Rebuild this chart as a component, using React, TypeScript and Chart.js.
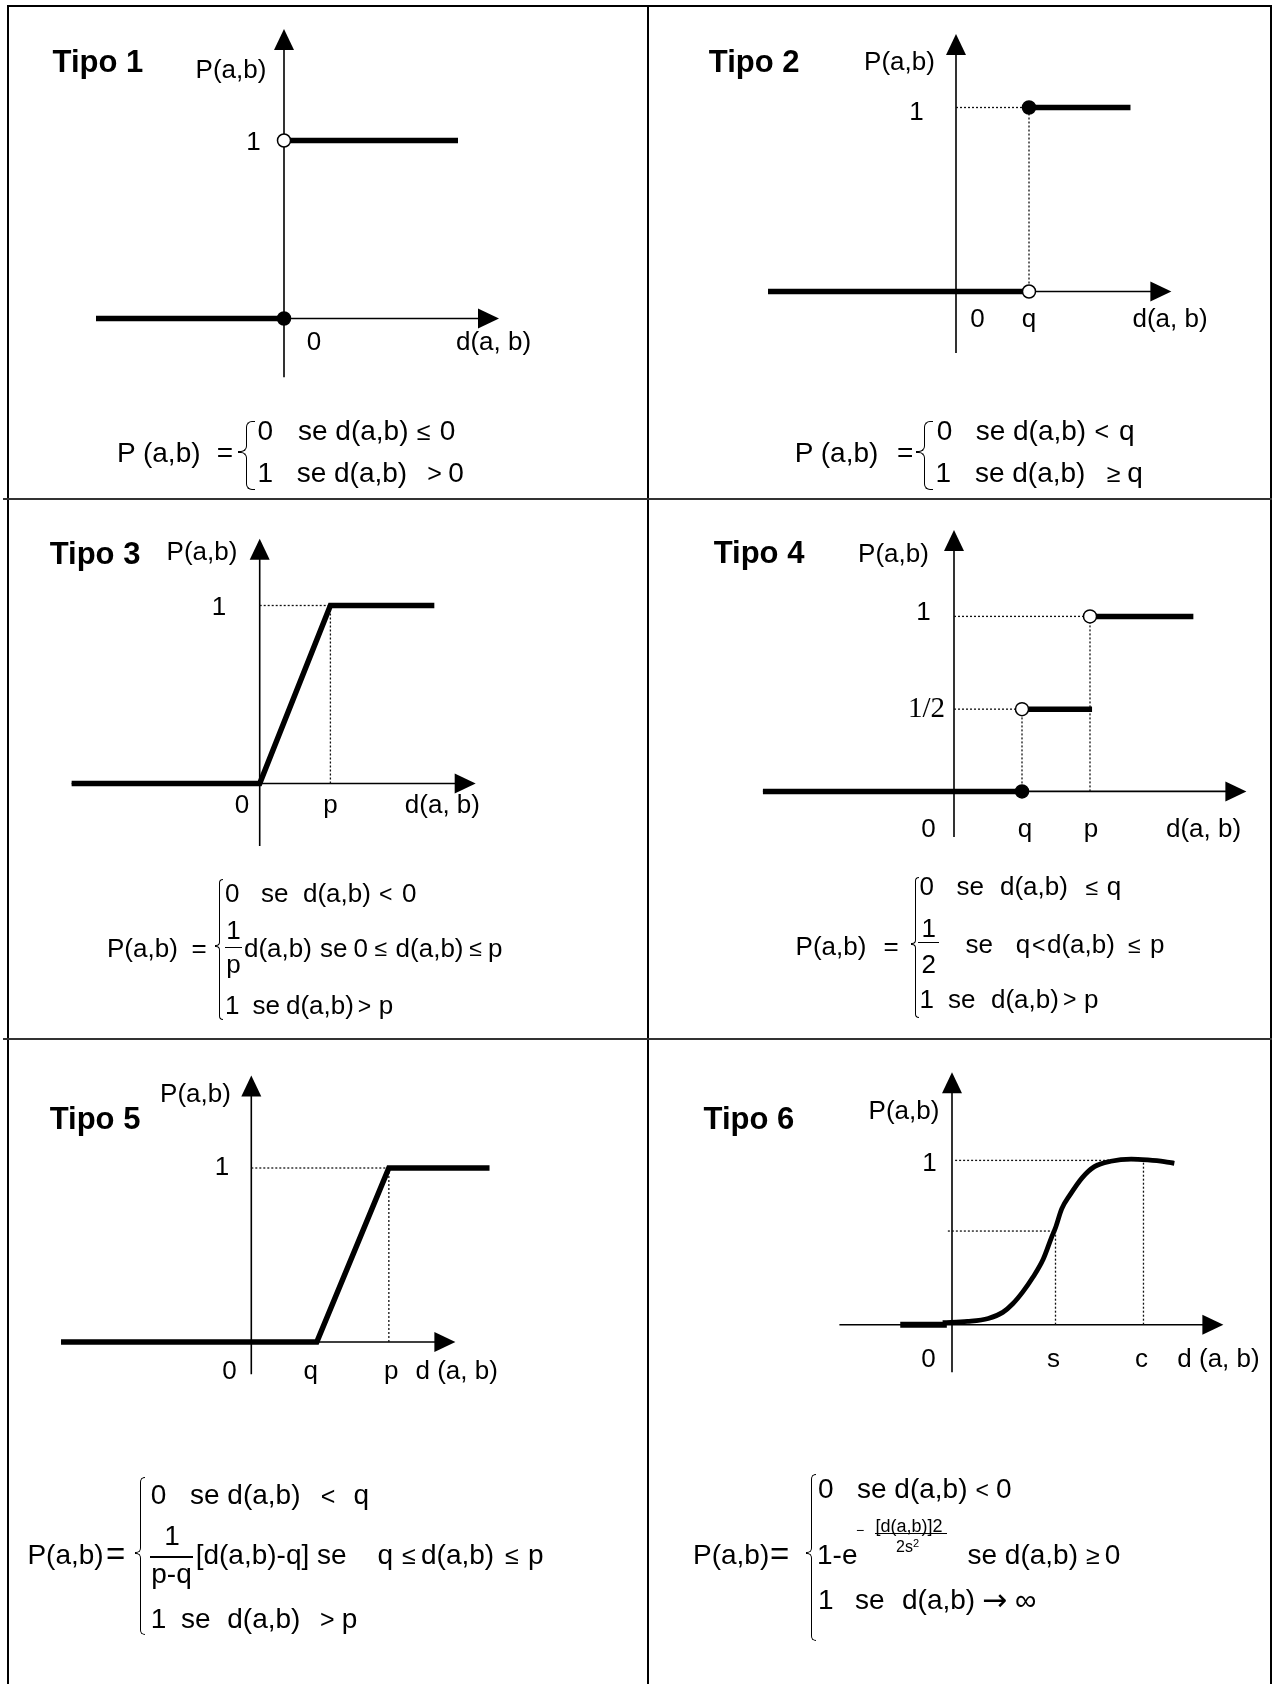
import React, { useEffect, useRef } from "react";
import { Chart, registerables } from "chart.js";
Chart.register(...registerables);

type Pt = { x: number; y: number };

// ================= DATA =================
const axisYTitle = "P(a,b)";
const axisXTitle = "d(a, b)";
const axisXTitleSpaced = "d (a, b)";
const titles = ["Tipo 1", "Tipo 2", "Tipo 3", "Tipo 4", "Tipo 5", "Tipo 6"];

// Tipo 1 – critério usual
const t1Negative: Pt[] = [{ x: -1.88, y: 0 }, { x: 0, y: 0 }];
const t1Positive: Pt[] = [{ x: 0.06, y: 1 }, { x: 1.74, y: 1 }];
const t1Closed: Pt[] = [{ x: 0, y: 0 }];
const t1Open: Pt[] = [{ x: 0, y: 1 }];
const t1TickLabels = ["0", "1"];

// Tipo 2 – quase-critério (limiar q)
const q2 = 1;
const t2Low: Pt[] = [{ x: -2.575, y: 0 }, { x: q2, y: 0 }];
const t2High: Pt[] = [{ x: q2, y: 1 }, { x: 2.39, y: 1 }];
const t2Closed: Pt[] = [{ x: q2, y: 1 }];
const t2Open: Pt[] = [{ x: q2, y: 0 }];
const t2TickLabels = ["0", "q", "1"];

// Tipo 3 – preferência linear (limiar p)
const p3 = 1;
const t3Line: Pt[] = [{ x: -2.66, y: 0 }, { x: 0, y: 0 }, { x: p3, y: 1 }, { x: 2.47, y: 1 }];
const t3TickLabels = ["0", "p", "1"];

// Tipo 4 – pseudo-critério em níveis (q, p)
const q4 = 1;
const p4 = 2;
const half4 = 0.47;
const t4Low: Pt[] = [{ x: -2.81, y: 0 }, { x: q4, y: 0 }];
const t4Mid: Pt[] = [{ x: q4, y: half4 }, { x: 2.03, y: half4 }];
const t4High: Pt[] = [{ x: p4, y: 1 }, { x: 3.52, y: 1 }];
const t4Closed: Pt[] = [{ x: q4, y: 0 }];
const t4Open: Pt[] = [{ x: q4, y: half4 }, { x: p4, y: 1 }];
const t4TickLabels = ["0", "q", "p", "1", "1/2"];

// Tipo 5 – preferência linear com indiferença (q, p)
const q5 = 1;
const p5 = 2.1;
const t5Line: Pt[] = [{ x: -2.905, y: 0 }, { x: q5, y: 0 }, { x: p5, y: 1 }, { x: 3.637, y: 1 }];
const t5TickLabels = ["0", "q", "p", "1"];

// Tipo 6 – critério gaussiano (s, c)
const s6 = 1;
const c6 = 1.85;
const mid6 = 0.57;
const t6Flat: Pt[] = [{ x: -0.5, y: 0 }, { x: -0.05, y: 0 }];
const t6Curve: Pt[] = [
  { x: -0.09, y: 0.012 }, { x: 0.15, y: 0.02 }, { x: 0.35, y: 0.038 }, { x: 0.49, y: 0.075 },
  { x: 0.585, y: 0.126 }, { x: 0.684, y: 0.2 }, { x: 0.783, y: 0.29 }, { x: 0.882, y: 0.4 },
  { x: 0.961, y: 0.53 }, { x: 1.0, y: 0.59 }, { x: 1.06, y: 0.705 }, { x: 1.14, y: 0.79 },
  { x: 1.257, y: 0.894 }, { x: 1.376, y: 0.962 }, { x: 1.534, y: 0.995 }, { x: 1.732, y: 1.008 },
  { x: 1.89, y: 1.003 }, { x: 2.05, y: 0.993 }, { x: 2.148, y: 0.982 },
];
const t6TickLabels = ["0", "s", "c", "1"];

// ================= STYLE HELPERS =================
const FS = '"Liberation Sans", Arial, Helvetica, sans-serif';
const SERIF = '"Liberation Serif", "Times New Roman", serif';
const DJ = '"DejaVu Sans", "Liberation Sans", sans-serif';
const PAGE_W = 1282;
const PAGE_H = 1684;

const bold = (data: Pt[], w = 5.5, extra: any = {}) => ({
  data, showLine: true, borderColor: "#000", backgroundColor: "#000", borderWidth: w,
  pointRadius: 0, pointHoverRadius: 0, borderJoinStyle: "miter", fill: false, order: 1, ...extra,
});
const guide = (data: Pt[]) => ({
  data, showLine: true, borderColor: "#111", borderWidth: 1.3, borderDash: [2, 2],
  pointRadius: 0, pointHoverRadius: 0, fill: false, order: 2,
});
const marks = (data: Pt[], filled: boolean) => ({
  data, showLine: false, pointRadius: 6.5, pointHoverRadius: 6.5,
  pointBackgroundColor: filled ? "#000" : "#fff", pointBorderColor: "#000", pointBorderWidth: 1.5, order: 0,
});

type Label = { t: string; vx: number; vy: number; dx: number; dy: number; font?: string };
type Layout = { ox: number; oy: number; ux: number; uy: number; xAxis: number[]; yAxis: number[] };
type Panel = { id: string; layout: Layout; datasets: any[]; labels: Label[] };

const LF = `26px ${FS}`;

const panels: Panel[] = [
  {
    id: "t1",
    layout: { ox: 284, oy: 318.5, ux: 100, uy: 178, xAxis: [-1.88, 2.15], yAxis: [-0.33, 1.626] },
    datasets: [marks(t1Closed, true), marks(t1Open, false), bold(t1Negative), bold(t1Positive)],
    labels: [
      { t: axisYTitle, vx: 0, vy: 0, dx: -53, dy: -247.5 },
      { t: t1TickLabels[1], vx: 0, vy: 1, dx: -30.5, dy: 2.5 },
      { t: t1TickLabels[0], vx: 0, vy: 0, dx: 30, dy: 24.5 },
      { t: axisXTitle, vx: 0, vy: 0, dx: 209.5, dy: 24.5 },
    ],
  },
  {
    id: "t2",
    layout: { ox: 956, oy: 291.5, ux: 73, uy: 184, xAxis: [-2.575, 2.95], yAxis: [-0.334, 1.4] },
    datasets: [
      marks(t2Closed, true), marks(t2Open, false), bold(t2Low), bold(t2High),
      guide([{ x: 0, y: 1 }, { x: q2, y: 1 }]), guide([{ x: q2, y: 0 }, { x: q2, y: 1 }]),
    ],
    labels: [
      { t: axisYTitle, vx: 0, vy: 0, dx: -56.5, dy: -229 },
      { t: t2TickLabels[2], vx: 0, vy: 1, dx: -39.5, dy: 5 },
      { t: t2TickLabels[0], vx: 0, vy: 0, dx: 21.5, dy: 28.5 },
      { t: t2TickLabels[1], vx: q2, vy: 0, dx: 0, dy: 28.5 },
      { t: axisXTitle, vx: 0, vy: 0, dx: 214, dy: 28.5 },
    ],
  },
  {
    id: "t3",
    layout: { ox: 259.7, oy: 783.5, ux: 70.7, uy: 178, xAxis: [-2.66, 3.055], yAxis: [-0.351, 1.375] },
    datasets: [
      bold(t3Line),
      guide([{ x: 0, y: 1 }, { x: p3, y: 1 }]), guide([{ x: p3, y: 0 }, { x: p3, y: 1 }]),
    ],
    labels: [
      { t: axisYTitle, vx: 0, vy: 0, dx: -57.7, dy: -230.5 },
      { t: t3TickLabels[2], vx: 0, vy: 1, dx: -40.7, dy: 2.5 },
      { t: t3TickLabels[0], vx: 0, vy: 0, dx: -17.7, dy: 22 },
      { t: t3TickLabels[1], vx: p3, vy: 0, dx: 0, dy: 22 },
      { t: axisXTitle, vx: 0, vy: 0, dx: 182.7, dy: 22 },
    ],
  },
  {
    id: "t4",
    layout: { ox: 954, oy: 791.4, ux: 68, uy: 175, xAxis: [-2.81, 4.3], yAxis: [-0.26, 1.494] },
    datasets: [
      marks(t4Closed, true), marks(t4Open, false), bold(t4Low), bold(t4Mid), bold(t4High),
      guide([{ x: 0, y: 1 }, { x: p4, y: 1 }]), guide([{ x: 0, y: half4 }, { x: q4, y: half4 }]),
      guide([{ x: q4, y: 0 }, { x: q4, y: half4 }]), guide([{ x: p4, y: 0 }, { x: p4, y: 1 }]),
    ],
    labels: [
      { t: axisYTitle, vx: 0, vy: 0, dx: -60.5, dy: -236.4 },
      { t: t4TickLabels[3], vx: 0, vy: 1, dx: -30.5, dy: -4 },
      { t: t4TickLabels[4], vx: 0, vy: half4, dx: -27.5, dy: 0.5, font: `29px ${SERIF}` },
      { t: t4TickLabels[0], vx: 0, vy: 0, dx: -25.4, dy: 38.6 },
      { t: t4TickLabels[1], vx: q4, vy: 0, dx: 3, dy: 38.6 },
      { t: t4TickLabels[2], vx: p4, vy: 0, dx: 1, dy: 38.6 },
      { t: axisXTitle, vx: 0, vy: 0, dx: 249.5, dy: 38.6 },
    ],
  },
  {
    id: "t5",
    layout: { ox: 251.3, oy: 1342, ux: 65.5, uy: 174, xAxis: [-2.905, 3.116], yAxis: [-0.186, 1.531] },
    datasets: [
      bold(t5Line),
      guide([{ x: 0, y: 1 }, { x: p5, y: 1 }]), guide([{ x: p5, y: 0 }, { x: p5, y: 1 }]),
    ],
    labels: [
      { t: axisYTitle, vx: 0, vy: 0, dx: -55.8, dy: -247 },
      { t: t5TickLabels[3], vx: 0, vy: 1, dx: -29.3, dy: -0.5 },
      { t: t5TickLabels[0], vx: 0, vy: 0, dx: -21.9, dy: 30.3 },
      { t: t5TickLabels[1], vx: q5, vy: 0, dx: -6, dy: 30.3 },
      { t: t5TickLabels[2], vx: p5, vy: 0, dx: 2.5, dy: 30.3 },
      { t: axisXTitleSpaced, vx: 0, vy: 0, dx: 205.4, dy: 30.3 },
    ],
  },
  {
    id: "t6",
    layout: { ox: 952, oy: 1324.7, ux: 103.5, uy: 164.3, xAxis: [-1.088, 2.622], yAxis: [-0.29, 1.536] },
    datasets: [
      bold(t6Flat, 6), bold(t6Curve, 4.8, { cubicInterpolationMode: "monotone", borderJoinStyle: "round" }),
      guide([{ x: 0.03, y: 1 }, { x: c6, y: 1 }]), guide([{ x: c6, y: 0 }, { x: c6, y: 1.02 }]),
      guide([{ x: -0.04, y: mid6 }, { x: s6, y: mid6 }]), guide([{ x: s6, y: 0 }, { x: s6, y: mid6 }]),
    ],
    labels: [
      { t: axisYTitle, vx: 0, vy: 0, dx: -48, dy: -213 },
      { t: t6TickLabels[3], vx: 0, vy: 1, dx: -22.4, dy: 3.6 },
      { t: t6TickLabels[0], vx: 0, vy: 0, dx: -23.4, dy: 35.3 },
      { t: t6TickLabels[1], vx: s6, vy: 0, dx: -2, dy: 35.3 },
      { t: t6TickLabels[2], vx: c6, vy: 0, dx: -2, dy: 35.3 },
      { t: axisXTitleSpaced, vx: 0, vy: 0, dx: 266.5, dy: 35.3 },
    ],
  },
];

// ================= CHART =================
function PanelChart({ panel }: { panel: Panel }) {
  const ref = useRef<HTMLCanvasElement>(null);
  useEffect(() => {
    if (!ref.current) return;
    const L = panel.layout;
    const xmin = -L.ox / L.ux;
    const xmax = (PAGE_W - L.ox) / L.ux;
    const ymax = L.oy / L.uy;
    const ymin = -(PAGE_H - L.oy) / L.uy;
    const axesPlugin = {
      id: "axes_" + panel.id,
      beforeDatasetsDraw(chart: any) {
        const { ctx, scales } = chart;
        const sx = scales.x, sy = scales.y;
        const x0 = sx.getPixelForValue(0), y0 = sy.getPixelForValue(0);
        const xa = sx.getPixelForValue(L.xAxis[0]), xb = sx.getPixelForValue(L.xAxis[1]);
        const ya = sy.getPixelForValue(L.yAxis[0]), yb = sy.getPixelForValue(L.yAxis[1]);
        ctx.save();
        ctx.strokeStyle = "#000";
        ctx.fillStyle = "#000";
        ctx.lineWidth = 1.6;
        ctx.beginPath();
        ctx.moveTo(xa, y0);
        ctx.lineTo(xb - 10, y0);
        ctx.moveTo(x0, ya);
        ctx.lineTo(x0, yb + 10);
        ctx.stroke();
        ctx.beginPath();
        ctx.moveTo(xb, y0);
        ctx.lineTo(xb - 21, y0 - 10);
        ctx.lineTo(xb - 21, y0 + 10);
        ctx.closePath();
        ctx.fill();
        ctx.beginPath();
        ctx.moveTo(x0, yb);
        ctx.lineTo(x0 - 10, yb + 21);
        ctx.lineTo(x0 + 10, yb + 21);
        ctx.closePath();
        ctx.fill();
        ctx.restore();
      },
      afterDatasetsDraw(chart: any) {
        const { ctx, scales } = chart;
        ctx.save();
        ctx.fillStyle = "#000";
        ctx.textAlign = "center";
        ctx.textBaseline = "middle";
        for (const lb of panel.labels) {
          ctx.font = lb.font || LF;
          ctx.fillText(lb.t, scales.x.getPixelForValue(lb.vx) + lb.dx, scales.y.getPixelForValue(lb.vy) + lb.dy);
        }
        ctx.restore();
      },
    };
    const chart = new Chart(ref.current, {
      type: "scatter",
      data: { datasets: panel.datasets as any },
      options: {
        animation: false,
        responsive: false,
        maintainAspectRatio: false,
        devicePixelRatio: 1,
        events: [],
        layout: { padding: 0, autoPadding: false },
        plugins: { legend: { display: false }, tooltip: { enabled: false }, title: { display: false } },
        scales: {
          x: { type: "linear", display: false, min: xmin, max: xmax },
          y: { type: "linear", display: false, min: ymin, max: ymax },
        },
      } as any,
      plugins: [axesPlugin],
    });
    return () => chart.destroy();
  }, [panel]);
  return (
    <canvas
      ref={ref}
      width={PAGE_W}
      height={PAGE_H}
      style={{ position: "absolute", left: 0, top: 0, width: PAGE_W, height: PAGE_H }}
    />
  );
}

// ================= TEXT HELPERS =================
function Txt({ x, cy, size = 28, refSize, children, center = false, family = FS }: any) {
  const base = cy + 0.358 * (refSize || size);
  return (
    <div
      style={{
        position: "absolute", left: x, top: base - 0.8465 * size, fontSize: size, lineHeight: `${size}px`,
        whiteSpace: "pre", fontFamily: family, color: "#000",
        transform: center ? "translateX(-50%)" : undefined,
      }}
    >
      {children}
    </div>
  );
}
const Rel = (p: any) => <Txt {...p} size={p.size || 25} refSize={p.refSize || 28} />;

function Title({ x, base, children }: any) {
  const size = 31;
  return (
    <div style={{ position: "absolute", left: x, top: base - 0.8465 * size, fontSize: size, lineHeight: `${size}px`, fontWeight: "bold", fontFamily: FS, whiteSpace: "pre" }}>
      {children}
    </div>
  );
}

// curly brace drawn with thin bordered boxes: x = middle cusp, xs = stem, xr = hook ends
function Brace({ x, xs, xr, y0, ym, y1, r = 5, b = 1.3 }: any) {
  const base: any = { position: "absolute", boxSizing: "border-box", borderColor: "#000", borderStyle: "solid", borderWidth: 0 };
  return (
    <>
      <div style={{ ...base, left: xs, top: y0, width: xr - xs, height: ym - y0 - r, borderLeftWidth: b, borderTopWidth: b, borderTopLeftRadius: r }} />
      <div style={{ ...base, left: x, top: ym - r, width: xs - x + b, height: r, borderRightWidth: b, borderBottomWidth: b, borderBottomRightRadius: r }} />
      <div style={{ ...base, left: x, top: ym, width: xs - x + b, height: r, borderRightWidth: b, borderTopWidth: b, borderTopRightRadius: r }} />
      <div style={{ ...base, left: xs, top: ym + r, width: xr - xs, height: y1 - ym - r, borderLeftWidth: b, borderBottomWidth: b, borderBottomLeftRadius: r }} />
    </>
  );
}

function Bar({ x0, x1, y, h = 1.5 }: any) {
  return <div style={{ position: "absolute", left: x0, top: y - h / 2, width: x1 - x0, height: h, background: "#000" }} />;
}

function Line({ l, t, w, h, c = "#000" }: any) {
  return <div style={{ position: "absolute", left: l, top: t, width: w, height: h, background: c }} />;
}

// ================= APP =================
export default function App() {
  useEffect(() => {
    document.body.style.margin = "0";
    document.body.style.background = "#fff";
  }, []);
  return (
    <div style={{ position: "relative", width: PAGE_W, height: PAGE_H, overflow: "hidden", background: "#fff", fontFamily: FS }}>
      <style>{`body{margin:0;background:#fff}`}</style>
      {/* table grid */}
      <Line l={7} t={5} w={1265} h={2} />
      <Line l={7} t={5} w={2} h={1679} />
      <Line l={1270} t={5} w={2} h={1679} />
      <Line l={647} t={5} w={2} h={1679} />
      <Line l={3} t={498} w={1269} h={2} c="#333" />
      <Line l={3} t={1038} w={1269} h={2} c="#333" />

      {panels.map((p) => (
        <PanelChart key={p.id} panel={p} />
      ))}

      <Title x={52.6} base={72.3}>{titles[0]}</Title>
      <Title x={708.8} base={72.3}>{titles[1]}</Title>
      <Title x={49.7} base={564}>{titles[2]}</Title>
      <Title x={713.7} base={563.4}>{titles[3]}</Title>
      <Title x={49.7} base={1129.4}>{titles[4]}</Title>
      <Title x={703.5} base={1129.4}>{titles[5]}</Title>

      {/* Formula 1 */}
      <Txt x={117} cy={452.6}>P (a,b)</Txt>
      <Txt x={216.8} cy={452.6}>=</Txt>
      <Brace x={238} xs={245.5} xr={254.5} y0={420.5} ym={451.5} y1={490} r={6} />
      <Txt x={257.6} cy={430.4}>0</Txt>
      <Txt x={298} cy={430.4}>se d(a,b)</Txt>
      <Rel x={416.7} cy={430.4}>≤</Rel>
      <Txt x={439.8} cy={430.4}>0</Txt>
      <Txt x={257.6} cy={472.5}>1</Txt>
      <Txt x={296.7} cy={472.5}>se d(a,b)</Txt>
      <Rel x={427.2} cy={472.5}>{">"}</Rel>
      <Txt x={448.3} cy={472.5}>0</Txt>

      {/* Formula 2 */}
      <Txt x={794.8} cy={452.6}>P (a,b)</Txt>
      <Txt x={897} cy={452.6}>=</Txt>
      <Brace x={916.3} xs={923.8} xr={932.8} y0={420.5} ym={451.5} y1={490} r={6} />
      <Txt x={936.8} cy={430.4}>0</Txt>
      <Txt x={975.7} cy={430.4}>se d(a,b)</Txt>
      <Rel x={1094.4} cy={430.4}>{"<"}</Rel>
      <Txt x={1119} cy={430.4}>q</Txt>
      <Txt x={935.6} cy={472.5}>1</Txt>
      <Txt x={974.9} cy={472.5}>se d(a,b)</Txt>
      <Rel x={1106.7} cy={472.5}>≥</Rel>
      <Txt x={1127.2} cy={472.5}>q</Txt>

      {/* Formula 3 */}
      <Txt x={107} cy={947.5} size={26}>P(a,b)</Txt>
      <Txt x={191.5} cy={947.5} size={26}>=</Txt>
      <Brace x={214.5} xs={218.8} xr={223.5} y0={879} ym={946} y1={1019.5} r={4} />
      <Txt x={225} cy={893} size={26}>0</Txt>
      <Txt x={261} cy={893} size={26}>se</Txt>
      <Txt x={303} cy={893} size={26}>d(a,b)</Txt>
      <Rel x={379} cy={893} size={23} refSize={26}>{"<"}</Rel>
      <Txt x={402} cy={893} size={26}>0</Txt>
      <Txt x={233.6} cy={930} size={26} center>1</Txt>
      <Bar x0={225} x1={242} y={947.5} />
      <Txt x={233.6} cy={963.3} size={26} center>p</Txt>
      <Txt x={244} cy={947.5} size={26}>d(a,b)</Txt>
      <Txt x={320} cy={947.5} size={26}>se</Txt>
      <Txt x={353.6} cy={947.5} size={26}>0</Txt>
      <Rel x={374.6} cy={947.5} size={23} refSize={26}>≤</Rel>
      <Txt x={395.6} cy={947.5} size={26}>d(a,b)</Txt>
      <Rel x={469.3} cy={947.5} size={23} refSize={26}>≤</Rel>
      <Txt x={488} cy={947.5} size={26}>p</Txt>
      <Txt x={225} cy={1005} size={26}>1</Txt>
      <Txt x={252.5} cy={1005} size={26}>se</Txt>
      <Txt x={286} cy={1005} size={26}>d(a,b)</Txt>
      <Rel x={357.8} cy={1005} size={23} refSize={26}>{">"}</Rel>
      <Txt x={378.8} cy={1005} size={26}>p</Txt>

      {/* Formula 4 */}
      <Txt x={795.6} cy={945.8} size={26}>P(a,b)</Txt>
      <Txt x={883.6} cy={945.8} size={26}>=</Txt>
      <Brace x={910.5} xs={914.5} xr={919} y0={877} ym={944} y1={1018} r={4} />
      <Txt x={919.6} cy={886} size={26}>0</Txt>
      <Txt x={956.5} cy={886} size={26}>se</Txt>
      <Txt x={1000} cy={886} size={26}>d(a,b)</Txt>
      <Rel x={1085.4} cy={886} size={23} refSize={26}>≤</Rel>
      <Txt x={1106.7} cy={886} size={26}>q</Txt>
      <Txt x={928.7} cy={928} size={26} center>1</Txt>
      <Bar x0={918.4} x1={939} y={942.3} />
      <Txt x={928.7} cy={963.3} size={26} center>2</Txt>
      <Txt x={965.5} cy={944} size={26}>se</Txt>
      <Txt x={1015.8} cy={944} size={26}>q</Txt>
      <Rel x={1032} cy={944} size={23} refSize={26}>{"<"}</Rel>
      <Txt x={1047} cy={944} size={26}>d(a,b)</Txt>
      <Rel x={1128} cy={944} size={23} refSize={26}>≤</Rel>
      <Txt x={1150} cy={944} size={26}>p</Txt>
      <Txt x={919.6} cy={998.4} size={26}>1</Txt>
      <Txt x={947.9} cy={998.4} size={26}>se</Txt>
      <Txt x={991} cy={998.4} size={26}>d(a,b)</Txt>
      <Rel x={1063} cy={998.4} size={23} refSize={26}>{">"}</Rel>
      <Txt x={1084} cy={998.4} size={26}>p</Txt>

      {/* Formula 5 */}
      <Txt x={27.4} cy={1554.5}>P(a,b)</Txt>
      <Rel x={106} cy={1554.5} size={33}>=</Rel>
      <Brace x={134.5} xs={139.5} xr={145} y0={1476.5} ym={1553} y1={1635} r={5} />
      <Txt x={150.7} cy={1495}>0</Txt>
      <Txt x={190} cy={1495}>se d(a,b)</Txt>
      <Rel x={320.7} cy={1495}>{"<"}</Rel>
      <Txt x={353.6} cy={1495}>q</Txt>
      <Txt x={172} cy={1535.8} center>1</Txt>
      <Bar x0={150} x1={192.5} y={1557} />
      <Txt x={171.5} cy={1573.3} center>p-q</Txt>
      <Txt x={195.7} cy={1554.5}>[d(a,b)-q] se</Txt>
      <Txt x={377.5} cy={1554.5}>q</Txt>
      <Rel x={402} cy={1554.5}>≤</Rel>
      <Txt x={421} cy={1554.5}>d(a,b)</Txt>
      <Rel x={505} cy={1554.5}>≤</Rel>
      <Txt x={528} cy={1554.5}>p</Txt>
      <Txt x={150.7} cy={1618.6}>1</Txt>
      <Txt x={181} cy={1618.6}>se</Txt>
      <Txt x={227.3} cy={1618.6}>d(a,b)</Txt>
      <Rel x={320} cy={1618.6}>{">"}</Rel>
      <Txt x={341.8} cy={1618.6}>p</Txt>

      {/* Formula 6 */}
      <Txt x={693} cy={1554.5}>P(a,b)</Txt>
      <Rel x={770} cy={1554.5} size={33}>=</Rel>
      <Brace x={805.5} xs={810.5} xr={816} y0={1473.7} ym={1553} y1={1641} r={5} />
      <Txt x={818} cy={1488.2}>0</Txt>
      <Txt x={857} cy={1488.2}>se d(a,b)</Txt>
      <Rel x={975.5} cy={1488.2} size={23}>{"<"}</Rel>
      <Txt x={996} cy={1488.2}>0</Txt>
      <Txt x={817} cy={1554.5}>1-e</Txt>
      <Txt x={856} cy={1529.6} size={14}>−</Txt>
      <Txt x={875.4} cy={1525.5} size={18}>[d(a,b)]2</Txt>
      <Bar x0={875.4} x1={947} y={1533.7} h={1.2} />
      <Txt x={896} cy={1547} size={16}>2s</Txt>
      <Txt x={913} cy={1543} size={11}>2</Txt>
      <Txt x={967.5} cy={1554.5}>se d(a,b)</Txt>
      <Rel x={1086} cy={1554.5}>≥</Rel>
      <Txt x={1104.7} cy={1554.5}>0</Txt>
      <Txt x={818} cy={1600}>1</Txt>
      <Txt x={855} cy={1600}>se</Txt>
      <Txt x={902} cy={1600}>d(a,b)</Txt>
      <Rel x={982} cy={1600} size={30} family={DJ}>→</Rel>
      <Rel x={1015} cy={1600} size={30}>∞</Rel>
    </div>
  );
}
